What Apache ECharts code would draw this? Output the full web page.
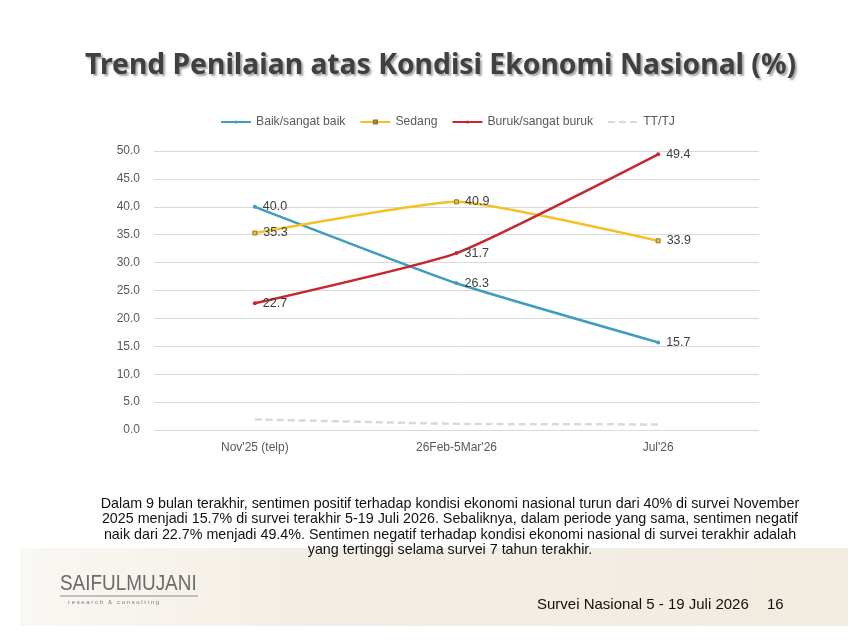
<!DOCTYPE html>
<html>
<head>
<meta charset="utf-8">
<script src="https://cdn.jsdelivr.net/npm/echarts@6/dist/echarts.min.js"></script>
<style>
  html, body { margin: 0; padding: 0; background: #fff; }
  #chart { width: 868px; height: 643px; }
</style>
</head>
<body>
<div id="chart"></div>
<script>
const categories = ["Nov'25 (telp)", "26Feb-5Mar'26", "Jul'26"]
const baik = [40.0, 26.3, 15.7]
const sedang = [35.3, 40.9, 33.9]
const buruk = [22.7, 31.7, 49.4]
const tttj = [1.9, 1.1, 1.0]

const chart = echarts.init(document.getElementById('chart'))

const labelStyle = {
  show: true,
  position: 'right',
  distance: 6,
  color: '#404040',
  fontSize: 12.5,
  fontFamily: 'Liberation Sans',
  formatter: (p) => p.value.toFixed(1)
}

const makeSeries = (name, data, color, symbol, dashed) => ({
  name: name,
  type: 'line',
  data: data,
  smooth: 0.15,
  symbol: symbol,
  symbolSize: 4,
  showSymbol: true,
  lineStyle: { color: color, width: 2.5, type: dashed ? [7, 4] : 'solid' },
  itemStyle: { color: color, borderColor: '#8a7a3a', borderWidth: symbol === 'rect' ? 1 : 0 },
  label: labelStyle,
  emphasis: { disabled: true }
})

const paragraph = [
  'Dalam 9 bulan terakhir, sentimen positif terhadap kondisi ekonomi nasional turun dari 40% di survei November',
  '2025 menjadi 15.7% di survei terakhir 5-19 Juli 2026. Sebaliknya, dalam periode yang sama, sentimen negatif',
  'naik dari 22.7% menjadi 49.4%. Sentimen negatif terhadap kondisi ekonomi nasional di survei terakhir adalah',
  'yang tertinggi selama survei 7 tahun terakhir.'
]

const option = {
  backgroundColor: '#fff',
  animation: false,
  title: {
    text: 'Trend Penilaian atas Kondisi Ekonomi Nasional (%)',
    left: 80,
    top: 47,
    textStyle: {
      fontFamily: 'Noto Sans',
      fontSize: 28.3,
      fontWeight: 'bold',
      color: '#404040',
      textShadowColor: 'rgba(0,0,0,0.35)',
      textShadowBlur: 2,
      textShadowOffsetX: 2,
      textShadowOffsetY: 2
    }
  },
  legend: {
    top: 116,
    left: 220,
    padding: 0,
    itemWidth: 30,
    itemHeight: 4,
    itemGap: 14,
    textStyle: { color: '#595959', fontSize: 12.2, fontFamily: 'Liberation Sans' },
    data: ['Baik/sangat baik', 'Sedang', 'Buruk/sangat buruk', 'TT/TJ']
  },
  grid: { left: 154, right: 109, top: 151, bottom: 213 },
  xAxis: {
    type: 'category',
    data: categories,
    boundaryGap: true,
    axisLine: { show: false },
    axisTick: { show: false },
    axisLabel: { color: '#595959', fontSize: 12, fontFamily: 'Liberation Sans', margin: 12 }
  },
  yAxis: {
    type: 'value',
    min: 0,
    max: 50,
    interval: 5,
    axisLabel: { color: '#595959', fontSize: 12, fontFamily: 'Liberation Sans', margin: 14, formatter: (v) => v.toFixed(1) },
    splitLine: { lineStyle: { color: '#d9d9d9', width: 1 } }
  },
  series: [
    makeSeries('Baik/sangat baik', baik, '#3d9dbd', 'circle', false),
    makeSeries('Sedang', sedang, '#f5bf25', 'rect', false),
    makeSeries('Buruk/sangat buruk', buruk, '#c8262f', 'circle', false),
    makeSeries('TT/TJ', tttj, '#d9d9d9', 'none', true)
  ],
  graphic: [
    {
      type: 'rect',
      shape: { x: 20, y: 548, width: 828, height: 78 },
      style: {
        fill: new echarts.graphic.LinearGradient(0, 0, 1, 0, [
          { offset: 0, color: '#faf8f4' },
          { offset: 0.3, color: '#f4efe6' },
          { offset: 1, color: '#f1ebe0' }
        ])
      },
      z: -10
    },
    ...paragraph.map((line, i) => ({
      type: 'text',
      x: 450,
      y: 497 + i * 15.5,
      style: {
        text: line,
        align: 'center',
        fill: '#111',
        font: '14.3px "Liberation Sans"'
      }
    })),
    {
      type: 'text',
      x: 60,
      y: 573,
      scaleX: 0.86,
      style: { text: 'SAIFULMUJANI', fill: '#6b6b6b', font: '22px "Liberation Sans"' }
    },
    {
      type: 'line',
      shape: { x1: 60, y1: 596, x2: 198, y2: 596 },
      style: { stroke: '#8a8a8a', lineWidth: 1 }
    },
    {
      type: 'text',
      x: 68,
      y: 599,
      style: { text: 'r e s e a r c h   &   c o n s u l t i n g', fill: '#7a7a7a', font: '6px "Liberation Sans"' }
    },
    {
      type: 'text',
      x: 537,
      y: 597,
      style: { text: 'Survei Nasional 5 - 19 Juli 2026', fill: '#111', font: '15px "Liberation Sans"' }
    },
    {
      type: 'text',
      x: 767,
      y: 597,
      style: { text: '16', fill: '#111', font: '15px "Liberation Sans"' }
    }
  ]
}

chart.setOption(option)
</script>
</body>
</html>
